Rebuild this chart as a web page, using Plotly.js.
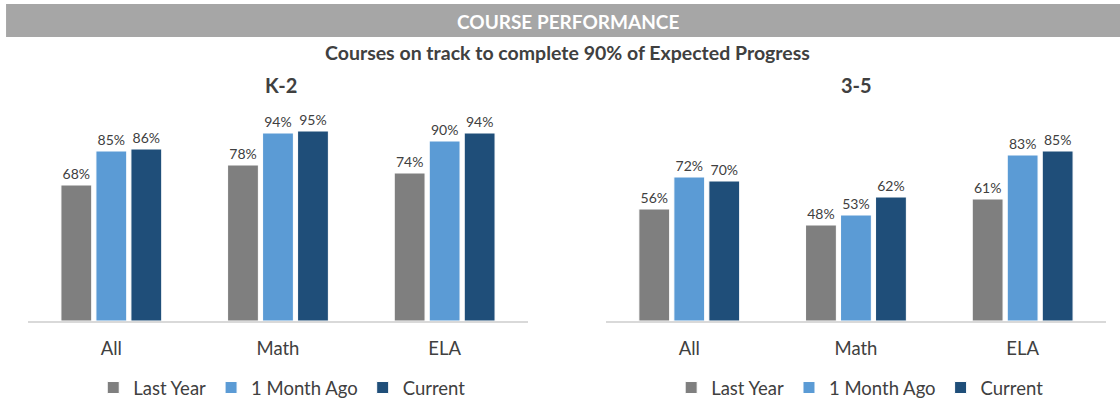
<!DOCTYPE html>
<html>
<head>
<meta charset="utf-8">
<script src="https://cdn.plot.ly/plotly-3.0.1.min.js"></script>
<style>html,body{margin:0;padding:0;background:#fff;}#chart{width:1120px;height:400px;}</style>
</head>
<body>
<div id="chart"></div>
<script>
const categories = ["All", "Math", "ELA"];
const seriesNames = ["Last Year", "1 Month Ago", "Current"];
const k2LastYear = [68, 78, 74];
const k2MonthAgo = [85, 94, 90];
const k2Current = [86, 95, 94];
const g35LastYear = [56, 48, 61];
const g35MonthAgo = [72, 53, 83];
const g35Current = [70, 62, 85];
const mainTitle = "COURSE PERFORMANCE";
const subTitle = "Courses on track to complete 90% of Expected Progress";
const panelTitles = ["K-2", "3-5"];

const colors = ["#7f7f7f", "#5b9bd5", "#1f4e79"];
const FONT = "Lato, 'Open Sans', sans-serif";
const TXT = "#404040";

function mk(vals, i, xa, ya, leg) {
  return {
    type: "bar", x: categories, y: vals, name: seriesNames[i],
    xaxis: xa, yaxis: ya, legend: leg,
    marker: {color: colors[i], line: {color: "#ffffff", width: 1}},
    text: vals.map(v => v + "%"), textposition: "outside", cliponaxis: false,
    textfont: {family: FONT, size: 14, color: TXT},
    hoverinfo: "x+y"
  };
}

const data = [
  mk(k2LastYear, 0, "x", "y", "legend"),
  mk(k2MonthAgo, 1, "x", "y", "legend"),
  mk(k2Current, 2, "x", "y", "legend"),
  mk(g35LastYear, 0, "x2", "y2", "legend2"),
  mk(g35MonthAgo, 1, "x2", "y2", "legend2"),
  mk(g35Current, 2, "x2", "y2", "legend2")
];

const xa = {
  showgrid: false, zeroline: false, showline: true, linecolor: "#d9d9d9", linewidth: 1.5,
  ticks: "", ticklabelstandoff: 10, automargin: false,
  tickfont: {family: FONT, size: 18.5, color: TXT}, fixedrange: true
};
const ya = {range: [0, 100], showgrid: false, zeroline: false, showline: false, showticklabels: false, automargin: false, fixedrange: true};
const legBase = {
  orientation: "h", xanchor: "center", yanchor: "middle", yref: "container", y: 0.03,
  font: {family: FONT, size: 18.5, color: TXT}, itemwidth: 30, tracegroupgap: 0,
  bgcolor: "rgba(0,0,0,0)"
};

const layout = {
  width: 1120, height: 400,
  margin: {l: 0, r: 0, t: 121, b: 79},
  paper_bgcolor: "#ffffff", plot_bgcolor: "#ffffff",
  barmode: "group", bargap: 0.37, bargroupgap: 0.12,
  font: {family: FONT, color: TXT},
  xaxis: Object.assign({}, xa, {domain: [0.025, 0.4714], anchor: "y"}),
  yaxis: Object.assign({}, ya, {anchor: "x"}),
  xaxis2: Object.assign({}, xa, {domain: [0.541, 0.9875], anchor: "y2"}),
  yaxis2: Object.assign({}, ya, {anchor: "x2"}),
  legend: Object.assign({}, legBase, {x: 0.252}),
  legend2: Object.assign({}, legBase, {x: 0.768}),
  shapes: [{
    type: "rect", xref: "paper", yref: "paper", x0: 0.0054, x1: 1, y0: 1.42, y1: 1.585,
    fillcolor: "#a6a6a6", line: {width: 0}, layer: "below"
  }],
  annotations: [
    {text: "<b>" + mainTitle + "</b>", xref: "paper", yref: "paper", x: 0.507, y: 1.5, showarrow: false,
     xanchor: "center", yanchor: "middle", font: {family: FONT, size: 19, color: "#ffffff"}},
    {text: "<b>" + subTitle + "</b>", xref: "paper", yref: "paper", x: 0.507, y: 1.34, showarrow: false,
     xanchor: "center", yanchor: "middle", font: {family: FONT, size: 19.5, color: TXT}},
    {text: "<b>" + panelTitles[0] + "</b>", xref: "paper", yref: "paper", x: 0.251, y: 1.18, showarrow: false,
     xanchor: "center", yanchor: "middle", font: {family: FONT, size: 20, color: TXT}},
    {text: "<b>" + panelTitles[1] + "</b>", xref: "paper", yref: "paper", x: 0.765, y: 1.18, showarrow: false,
     xanchor: "center", yanchor: "middle", font: {family: FONT, size: 20, color: TXT}}
  ]
};

Plotly.newPlot("chart", data, layout, {displayModeBar: false, staticPlot: true});
</script>
</body>
</html>
